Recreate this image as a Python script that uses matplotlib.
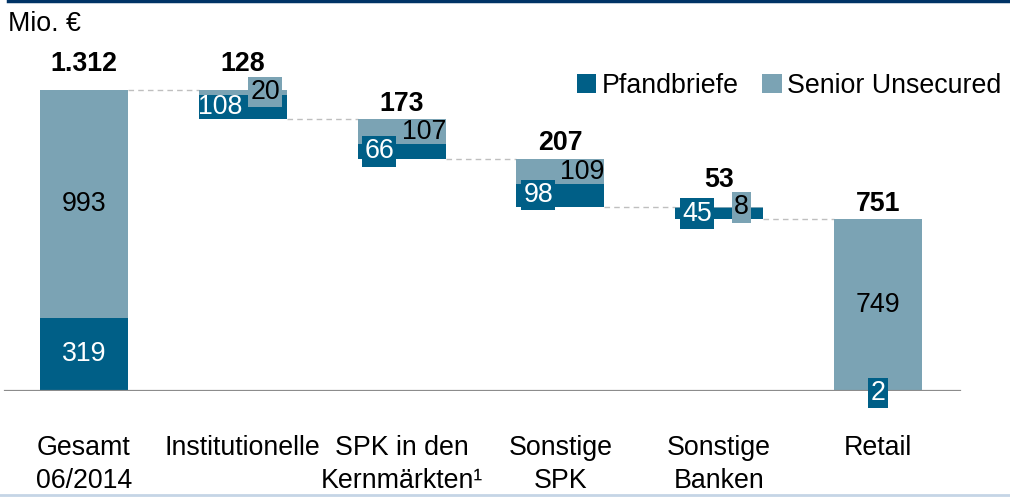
import matplotlib.pyplot as plt
import numpy as np

plt.rcParams['font.family'] = ['Liberation Sans', 'DejaVu Sans']

categories = ['Gesamt\n06/2014', 'Institutionelle', 'SPK in den\nKernmärkten¹',
              'Sonstige\nSPK', 'Sonstige\nBanken', 'Retail']
pfandbriefe = [319, 108, 66, 98, 45, 2]
senior = [993, 20, 107, 109, 8, 749]
totals = ['1.312', '128', '173', '207', '53', '751']

dark = '#005f87'
light = '#7ba3b4'
fs = 19.3

# bar bottoms: first and last stand on the axis, the rest float down the waterfall
n = len(categories)
bottoms = np.zeros(n)
level = pfandbriefe[0] + senior[0]
for i in range(1, n - 1):
    level -= pfandbriefe[i] + senior[i]
    bottoms[i] = level

x = np.arange(n)
w = 0.555

fig = plt.figure(figsize=(10.1, 4.98), dpi=100)
ax = fig.add_axes([0, 107 / 498, 1, 391 / 498])
ax.set_xlim(-84 / 158.8, (1010 - 84) / 158.8)
ax.set_ylim(0, 391 / (301 / 1312))

ax.bar(x, pfandbriefe, w, bottom=bottoms, color=dark, label='Pfandbriefe', zorder=2)
tops_p = bottoms + np.array(pfandbriefe)
ax.bar(x, senior, w, bottom=tops_p, color=light, label='Senior Unsecured', zorder=2)
tops = tops_p + np.array(senior)

# dashed connectors
for i in range(n - 1):
    lvl = tops[i] if i == 0 else bottoms[i]
    ax.plot([x[i] + w / 2, x[i + 1] - w / 2], [lvl, lvl], ls=(0, (4, 3)),
            color='#bfbfbf', lw=1, zorder=1)

# segment labels
dx = [0, -0.14, -0.14, -0.14, -0.14, 0]
sx = [0, 0.14, 0.14, 0.14, 0.14, 0]
box_p = [False, False, True, True, True, True]
box_s = [False, True, False, False, True, False]
for i in range(n):
    yp = bottoms[i] + pfandbriefe[i] / 2
    ys = tops_p[i] + senior[i] / 2
    if i == 5:
        yp -= 10
    ax.text(x[i] + dx[i], yp, str(pfandbriefe[i]), color='white', fontsize=fs,
            ha='center', va='center', zorder=4,
            bbox=dict(boxstyle='square,pad=0.08', fc=dark, ec='none') if box_p[i] else None)
    ax.text(x[i] + sx[i], ys, str(senior[i]), color='black', fontsize=fs,
            ha='center', va='center', zorder=4,
            bbox=dict(boxstyle='square,pad=0.08', fc=light, ec='none') if box_s[i] else None)

# totals above bars (offset in pixels -> points)
off = [29, 29, 18.5, 19, 30, 18]
for i in range(n):
    ax.annotate(totals[i], (x[i], tops[i]), xytext=(0, off[i] * 0.72),
                textcoords='offset points', ha='center', va='center_baseline',
                fontsize=fs, fontweight='bold')

ax.axhline(0, xmin=5 / 1010, xmax=960 / 1010, color='#8c8c8c', lw=1.6, zorder=3)

for s in ax.spines.values():
    s.set_visible(False)
ax.set_yticks([])
ax.set_xticks(x)
ax.set_xticklabels(categories, fontsize=fs, linespacing=1.33, va='top')
ax.tick_params(axis='x', length=0, pad=32)

ax.legend(loc='upper right', bbox_to_anchor=(1.002, 0.84), ncols=2, frameon=False,
          fontsize=fs, handlelength=0.72, handleheight=0.72, handletextpad=0.2,
          columnspacing=0.9, borderaxespad=0)

fig.text(8 / 1010, 1 - 24 / 498, 'Mio. €', fontsize=fs, va='center', ha='left')
fig.add_artist(plt.Line2D([8 / 1010, 1], [1 - 1.5 / 498, 1 - 1.5 / 498],
                          color='#003366', lw=2.5))
fig.add_artist(plt.Line2D([0, 1], [1 - 495 / 498, 1 - 495 / 498],
                          color='#c5d5e6', lw=2))

plt.savefig('out.png', dpi=100)
